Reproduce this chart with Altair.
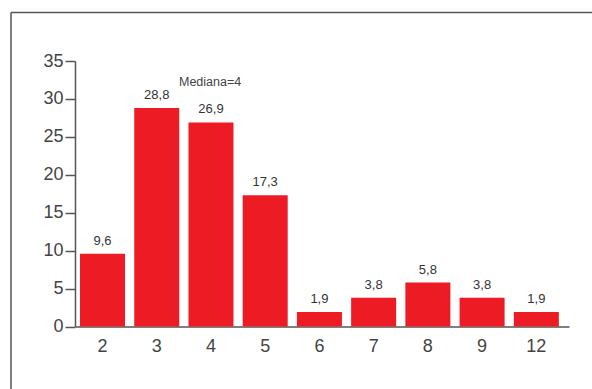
import altair as alt
import pandas as pd

# Share of cases by number of items (%)
categories = ["2", "3", "4", "5", "6", "7", "8", "9", "12"]
percents = [9.6, 28.8, 26.9, 17.3, 1.9, 3.8, 5.8, 3.8, 1.9]
y_ticks = [0, 5, 10, 15, 20, 25, 30, 35]
median_note = "Mediana=4"

df = pd.DataFrame({"cat": categories, "pct": percents})

RED = "#ED1C24"
INK = "#444444"
LINE = "#555555"
FONT = "Liberation Sans"

x_enc = alt.X(
    "cat:N",
    sort=categories,
    title=None,
    scale=alt.Scale(paddingInner=0.17, paddingOuter=0.14, align=0.33),
    axis=alt.Axis(
        labelAngle=0, ticks=False, tickSize=0, labelPadding=11,
        labelFontSize=18, labelColor=INK, labelFont=FONT,
        domainColor=LINE, domainWidth=1.5,
    ),
)
y_enc = alt.Y(
    "pct:Q",
    title=None,
    scale=alt.Scale(domain=[0, 35], nice=False, zero=True),
    axis=alt.Axis(
        values=y_ticks, grid=False, tickSize=10, tickWidth=1.5, tickColor=LINE,
        labelPadding=2, labelFontSize=18, labelColor=INK, labelFont=FONT,
        labelOverlap=False, domainColor=LINE, domainWidth=1.5,
    ),
)

base = alt.Chart(df).encode(x=x_enc, y=y_enc)

bars = base.mark_bar(color=RED)

labels = base.transform_calculate(
    txt="replace(format(datum.pct, '.1f'), '.', ',')"
).mark_text(
    dy=-9, baseline="alphabetic", fontSize=13, color="#333333", font=FONT
).encode(text="txt:N")

note = alt.Chart(pd.DataFrame({"t": [median_note]})).mark_text(
    align="left", baseline="alphabetic", fontSize=12.5, color=INK, font=FONT
).encode(x=alt.value(104), y=alt.value(25), text="t:N")

# Outer frame (top and left edges)
frame_left = alt.Chart(pd.DataFrame({"k": [0]})).mark_rule(color=LINE, strokeWidth=1.5).encode(
    x=alt.value(-64), y=alt.value(-48.5), y2=alt.value(340)
)
frame_top = alt.Chart(pd.DataFrame({"k": [0]})).mark_rule(color=LINE, strokeWidth=1.5).encode(
    x=alt.value(-64), x2=alt.value(540), y=alt.value(-48.5)
)

chart = (
    alt.layer(bars, labels, note, frame_left, frame_top)
    .properties(
        width=494, height=265.5,
        autosize=alt.AutoSizeParams(type="none"),
        padding={"left": 75, "top": 61, "right": 23, "bottom": 62},
    )
    .configure(background="white")
    .configure_view(strokeWidth=0, stroke="transparent")
)

chart.save("out.html", embed_options={"renderer": "svg", "actions": False})
